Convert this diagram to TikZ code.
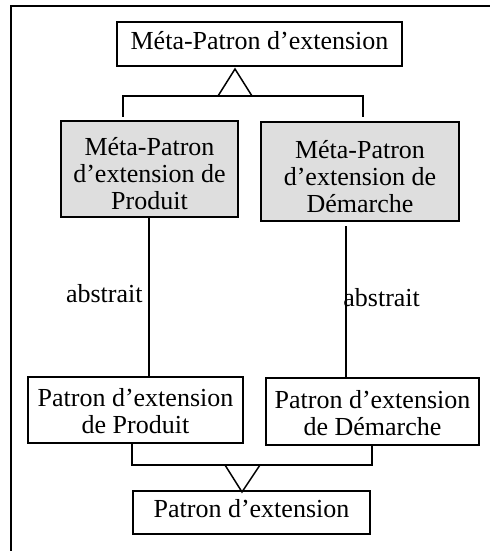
\documentclass[tikz,border=0pt]{standalone}
\usepackage{fontspec}
\setmainfont{Liberation Serif}
\begin{document}
\begin{tikzpicture}[x=0.5pt,y=-0.5pt,
  box/.style={draw=black,line width=1pt,inner sep=0pt,align=center,
    font=\fontsize{13}{13.5}\selectfont},
  grey/.style={box,fill=boxgrey},
  conn/.style={draw=black,line width=0.75pt},
  lbl/.style={inner sep=0pt,font=\fontsize{13}{13.5}\selectfont}]
\definecolor{boxgrey}{RGB}{222,222,222}
\useasboundingbox (0,0) rectangle (490,551);
% frame
\coordinate (fr1) at (490,6);
\coordinate (fr2) at (11,6);
\coordinate (fr3) at (11,552);
\draw[line width=1pt] (fr1) -- (fr2) -- (fr3);
% nodes
\node[box,minimum width=142.5pt,minimum height=22pt] (top) at (259.5,44) {\rule[-4pt]{0pt}{13pt}Méta-Patron d’extension};
\node[grey,minimum width=88.5pt,minimum height=48pt] (gl) at (149.5,169) {\rule{0pt}{14pt}Méta-Patron\\d’extension de\\Produit};
\node[grey,minimum width=99pt,minimum height=49.5pt] (gr) at (360,171.5) {\rule{0pt}{14pt}Méta-Patron\\d’extension de\\Démarche};
\node[box,minimum width=107.5pt,minimum height=33pt] (bl) at (135.5,410) {\rule{0pt}{10.5pt}Patron d’extension\\de Produit};
\node[box,minimum width=106.5pt,minimum height=33.5pt] (br) at (372.5,411.5) {\rule{0pt}{10.5pt}Patron d’extension\\de Démarche};
\node[box,minimum width=118.5pt,minimum height=21.5pt] (bot) at (251.5,512.5) {\rule[-4.5pt]{0pt}{13.5pt}Patron d’extension};
% top generalisation
\coordinate (ta) at (235,69);
\coordinate (tbl) at (218,96);
\coordinate (tbr) at (252,96);
\coordinate (hl) at (123,96);
\coordinate (hr) at (363,96);
\coordinate (vl) at (123,117);
\coordinate (vr) at (363,117);
\draw[conn] (tbl) -- (ta) -- (tbr) -- cycle;
\draw[conn] (vl) -- (hl) -- (hr) -- (vr);
% abstrait links
\coordinate (rtop) at (346,226);
\draw[conn] (gl.south -| 149,0) -- (bl.north -| 149,0);
\draw[conn] (rtop) -- (br.north -| rtop);
\node[lbl,anchor=base east] (al) at (143,302) {abstrait};
\node[lbl,anchor=base west] (ar) at (343,306) {abstrait};
% bottom generalisation
\coordinate (bj1) at (132,465);
\coordinate (bj2) at (372,465);
\coordinate (ba) at (242,492);
\coordinate (bbl) at (225,465);
\coordinate (bbr) at (260,465);
\draw[conn] (bl.south -| bj1) -- (bj1) -- (bj2) -- (br.south -| bj2);
\draw[conn] (bbl) -- (ba) -- (bbr) -- cycle;
\end{tikzpicture}
\end{document}
